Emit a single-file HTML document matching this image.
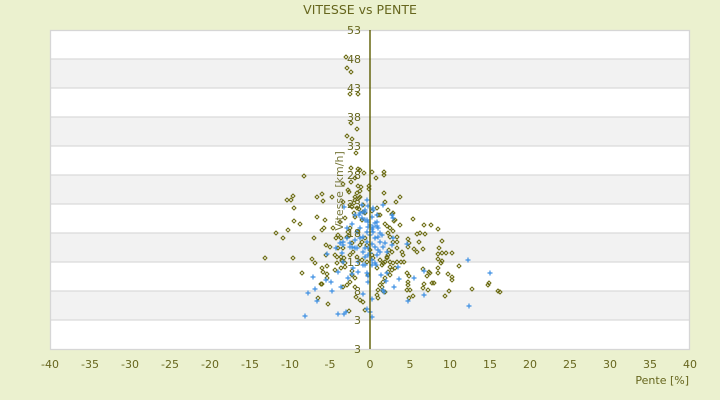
<!DOCTYPE html>
<html><head><meta charset="utf-8"><style>
html,body{margin:0;padding:0;background:#ebf1cf;}
svg{display:block;}
text{font-family:"DejaVu Sans","Liberation Sans",sans-serif;fill:#66661e;}
</style></head><body>
<svg width="720" height="400" viewBox="0 0 720 400" xmlns="http://www.w3.org/2000/svg">
<rect x="0" y="0" width="720" height="400" fill="#ebf1cf"/>
<text x="360" y="14" font-size="12.5" text-anchor="middle">VITESSE vs PENTE</text>
<rect x="50" y="30" width="640" height="319" fill="#ffffff"/>
<g fill="#f2f2f2">
<rect x="50" y="59" width="640" height="29"/>
<rect x="50" y="117" width="640" height="29"/>
<rect x="50" y="175" width="640" height="29"/>
<rect x="50" y="233" width="640" height="29"/>
<rect x="50" y="291" width="640" height="29"/>
</g>
<g stroke="#dadada" stroke-width="1.2">
<line x1="50" y1="59" x2="690" y2="59"/><line x1="50" y1="88" x2="690" y2="88"/>
<line x1="50" y1="117" x2="690" y2="117"/><line x1="50" y1="146" x2="690" y2="146"/>
<line x1="50" y1="175" x2="690" y2="175"/><line x1="50" y1="204" x2="690" y2="204"/>
<line x1="50" y1="233" x2="690" y2="233"/><line x1="50" y1="262" x2="690" y2="262"/>
<line x1="50" y1="291" x2="690" y2="291"/><line x1="50" y1="320" x2="690" y2="320"/>
</g>
<rect x="50.5" y="30.5" width="639" height="319" fill="none" stroke="#d6d6d6" stroke-width="1.3"/>
<path fill="none" stroke="#6a6a10" stroke-width="1" d="M344 57l2-2 2 2-2 2zM345 68l2-2 2 2-2 2zM349 72l2-2 2 2-2 2zM348 94l2-2 2 2-2 2zM356 94l2-2 2 2-2 2zM349 123l2-2 2 2-2 2zM355 129l2-2 2 2-2 2zM345 136l2-2 2 2-2 2zM350 139l2-2 2 2-2 2zM354 153l2-2 2 2-2 2zM349 168l2-2 2 2-2 2zM356 169l2-2 2 2-2 2zM358 170l2-2 2 2-2 2zM362 173l2-2 2 2-2 2zM370 172l2-2 2 2-2 2zM382 172l2-2 2 2-2 2zM382 175l2-2 2 2-2 2zM374 178l2-2 2 2-2 2zM349 182l2-2 2 2-2 2zM341 184l2-2 2 2-2 2zM356 186l2-2 2 2-2 2zM359 187l2-2 2 2-2 2zM358 191l2-2 2 2-2 2zM367 186l2-2 2 2-2 2zM367 189l2-2 2 2-2 2zM347 192l2-2 2 2-2 2zM382 193l2-2 2 2-2 2zM302 176l2-2 2 2-2 2zM394 202l2-2 2 2-2 2zM398 197l2-2 2 2-2 2zM353 178l2-2 2 2-2 2zM346 190l2-2 2 2-2 2zM355 193l2-2 2 2-2 2zM353 197l2-2 2 2-2 2zM357 198l2-2 2 2-2 2zM352 203l2-2 2 2-2 2zM350 207l2-2 2 2-2 2zM355 208l2-2 2 2-2 2zM357 209l2-2 2 2-2 2zM361 212l2-2 2 2-2 2zM352 213l2-2 2 2-2 2zM353 217l2-2 2 2-2 2zM363 213l2-2 2 2-2 2zM360 220l2-2 2 2-2 2z
M291 196l2-2 2 2-2 2zM289 200l2-2 2 2-2 2zM285 200l2-2 2 2-2 2zM320 194l2-2 2 2-2 2zM315 197l2-2 2 2-2 2zM321 201l2-2 2 2-2 2zM292 208l2-2 2 2-2 2zM315 217l2-2 2 2-2 2zM323 220l2-2 2 2-2 2zM298 224l2-2 2 2-2 2zM292 221l2-2 2 2-2 2zM322 228l2-2 2 2-2 2zM320 230l2-2 2 2-2 2zM286 230l2-2 2 2-2 2zM274 233l2-2 2 2-2 2zM281 238l2-2 2 2-2 2zM312 238l2-2 2 2-2 2zM263 258l2-2 2 2-2 2zM291 258l2-2 2 2-2 2zM300 273l2-2 2 2-2 2zM310 259l2-2 2 2-2 2zM313 263l2-2 2 2-2 2zM326 304l2-2 2 2-2 2zM319 284l2-2 2 2-2 2zM325 274l2-2 2 2-2 2z
M411 219l2-2 2 2-2 2zM422 225l2-2 2 2-2 2zM429 225l2-2 2 2-2 2zM436 229l2-2 2 2-2 2zM398 225l2-2 2 2-2 2zM390 214l2-2 2 2-2 2zM392 221l2-2 2 2-2 2zM415 234l2-2 2 2-2 2zM418 233l2-2 2 2-2 2zM423 234l2-2 2 2-2 2zM383 224l2-2 2 2-2 2zM385 226l2-2 2 2-2 2zM386 233l2-2 2 2-2 2zM388 237l2-2 2 2-2 2zM391 231l2-2 2 2-2 2zM395 237l2-2 2 2-2 2zM406 239l2-2 2 2-2 2zM376 215l2-2 2 2-2 2zM375 208l2-2 2 2-2 2zM370 211l2-2 2 2-2 2zM407 243l2-2 2 2-2 2zM406 247l2-2 2 2-2 2zM417 242l2-2 2 2-2 2zM440 241l2-2 2 2-2 2zM437 248l2-2 2 2-2 2zM412 249l2-2 2 2-2 2zM415 252l2-2 2 2-2 2zM440 253l2-2 2 2-2 2zM444 253l2-2 2 2-2 2zM450 253l2-2 2 2-2 2zM436 254l2-2 2 2-2 2zM440 261l2-2 2 2-2 2zM457 266l2-2 2 2-2 2zM436 268l2-2 2 2-2 2zM421 269l2-2 2 2-2 2zM427 272l2-2 2 2-2 2zM425 276l2-2 2 2-2 2zM446 274l2-2 2 2-2 2zM450 277l2-2 2 2-2 2zM450 280l2-2 2 2-2 2zM430 283l2-2 2 2-2 2zM432 283l2-2 2 2-2 2zM421 288l2-2 2 2-2 2zM426 290l2-2 2 2-2 2zM443 296l2-2 2 2-2 2zM447 291l2-2 2 2-2 2zM470 289l2-2 2 2-2 2zM487 283l2-2 2 2-2 2zM486 285l2-2 2 2-2 2zM496 291l2-2 2 2-2 2zM498 292l2-2 2 2-2 2zM411 296l2-2 2 2-2 2zM407 298l2-2 2 2-2 2zM405 273l2-2 2 2-2 2zM407 276l2-2 2 2-2 2zM406 282l2-2 2 2-2 2zM406 285l2-2 2 2-2 2zM405 290l2-2 2 2-2 2zM400 252l2-2 2 2-2 2zM401 255l2-2 2 2-2 2zM402 262l2-2 2 2-2 2zM399 262l2-2 2 2-2 2zM395 242l2-2 2 2-2 2zM387 250l2-2 2 2-2 2zM386 255l2-2 2 2-2 2zM385 258l2-2 2 2-2 2zM383 262l2-2 2 2-2 2zM381 263l2-2 2 2-2 2zM388 262l2-2 2 2-2 2zM391 263l2-2 2 2-2 2zM393 268l2-2 2 2-2 2zM390 270l2-2 2 2-2 2zM386 272l2-2 2 2-2 2zM388 275l2-2 2 2-2 2zM383 278l2-2 2 2-2 2zM381 282l2-2 2 2-2 2zM378 285l2-2 2 2-2 2zM380 287l2-2 2 2-2 2zM376 290l2-2 2 2-2 2zM381 291l2-2 2 2-2 2zM383 292l2-2 2 2-2 2zM375 295l2-2 2 2-2 2zM422 284l2-2 2 2-2 2zM436 273l2-2 2 2-2 2zM428 273l2-2 2 2-2 2zM408 290l2-2 2 2-2 2zM421 249l2-2 2 2-2 2zM436 259l2-2 2 2-2 2zM439 263l2-2 2 2-2 2z
M324 245l2-2 2 2-2 2zM328 247l2-2 2 2-2 2zM334 238l2-2 2 2-2 2zM339 238l2-2 2 2-2 2zM336 248l2-2 2 2-2 2zM341 248l2-2 2 2-2 2zM347 236l2-2 2 2-2 2zM324 255l2-2 2 2-2 2zM333 255l2-2 2 2-2 2zM325 266l2-2 2 2-2 2zM320 268l2-2 2 2-2 2zM321 272l2-2 2 2-2 2zM320 284l2-2 2 2-2 2zM325 278l2-2 2 2-2 2zM333 270l2-2 2 2-2 2zM335 263l2-2 2 2-2 2zM340 261l2-2 2 2-2 2zM339 257l2-2 2 2-2 2zM342 258l2-2 2 2-2 2zM343 267l2-2 2 2-2 2zM339 268l2-2 2 2-2 2zM350 271l2-2 2 2-2 2zM350 275l2-2 2 2-2 2zM353 278l2-2 2 2-2 2zM341 287l2-2 2 2-2 2zM353 287l2-2 2 2-2 2zM348 282l2-2 2 2-2 2zM345 285l2-2 2 2-2 2zM368 250l2-2 2 2-2 2zM363 238l2-2 2 2-2 2zM365 245l2-2 2 2-2 2zM370 255l2-2 2 2-2 2zM366 275l2-2 2 2-2 2zM361 302l2-2 2 2-2 2zM363 310l2-2 2 2-2 2z
M330 197l2-2 2 2-2 2zM341 202l2-2 2 2-2 2zM348 205l2-2 2 2-2 2zM353 200l2-2 2 2-2 2zM358 197l2-2 2 2-2 2zM361 205l2-2 2 2-2 2zM343 218l2-2 2 2-2 2zM338 222l2-2 2 2-2 2zM331 228l2-2 2 2-2 2zM346 232l2-2 2 2-2 2zM345 237l2-2 2 2-2 2zM335 257l2-2 2 2-2 2zM340 260l2-2 2 2-2 2zM343 263l2-2 2 2-2 2zM348 255l2-2 2 2-2 2zM351 252l2-2 2 2-2 2zM358 245l2-2 2 2-2 2zM360 242l2-2 2 2-2 2zM383 202l2-2 2 2-2 2zM386 210l2-2 2 2-2 2zM391 213l2-2 2 2-2 2zM393 220l2-2 2 2-2 2zM388 228l2-2 2 2-2 2zM391 242l2-2 2 2-2 2zM395 248l2-2 2 2-2 2zM390 252l2-2 2 2-2 2zM385 257l2-2 2 2-2 2zM395 262l2-2 2 2-2 2zM380 265l2-2 2 2-2 2zM375 268l2-2 2 2-2 2zM388 267l2-2 2 2-2 2zM371 258l2-2 2 2-2 2zM378 260l2-2 2 2-2 2zM360 260l2-2 2 2-2 2zM365 262l2-2 2 2-2 2zM355 257l2-2 2 2-2 2zM378 215l2-2 2 2-2 2zM356 232l2-2 2 2-2 2zM350 243l2-2 2 2-2 2zM348 228l2-2 2 2-2 2zM336 235l2-2 2 2-2 2z
M316 298l2-2 2 2-2 2zM354 297l2-2 2 2-2 2zM376 298l2-2 2 2-2 2zM347 311l2-2 2 2-2 2zM358 300l2-2 2 2-2 2z"/>
<path fill="none" stroke="#3d8fe3" stroke-width="1.2" d="M364.5 200h5m-2.5-2.5v5M365.5 206h5m-2.5-2.5v5M370.5 210h5m-2.5-2.5v5M360.5 212h5m-2.5-2.5v5M359.5 218h5m-2.5-2.5v5M362.5 220h5m-2.5-2.5v5M365.5 222h5m-2.5-2.5v5M367.5 225h5m-2.5-2.5v5M370.5 227h5m-2.5-2.5v5M369.5 217h5m-2.5-2.5v5M374.5 222h5m-2.5-2.5v5M375.5 228h5m-2.5-2.5v5M364.5 232h5m-2.5-2.5v5M367.5 235h5m-2.5-2.5v5M372.5 238h5m-2.5-2.5v5M377.5 242h5m-2.5-2.5v5M380.5 247h5m-2.5-2.5v5M372.5 247h5m-2.5-2.5v5M365.5 248h5m-2.5-2.5v5M360.5 252h5m-2.5-2.5v5M367.5 253h5m-2.5-2.5v5M374.5 255h5m-2.5-2.5v5M362.5 257h5m-2.5-2.5v5M355.5 262h5m-2.5-2.5v5M369.5 260h5m-2.5-2.5v5M360.5 265h5m-2.5-2.5v5M347.5 247h5m-2.5-2.5v5M340.5 245h5m-2.5-2.5v5M352.5 248h5m-2.5-2.5v5M337.5 243h5m-2.5-2.5v5M382.5 243h5m-2.5-2.5v5M389.5 245h5m-2.5-2.5v5M390.5 238h5m-2.5-2.5v5M389.5 215h5m-2.5-2.5v5M380.5 205h5m-2.5-2.5v5M372.5 263h5m-2.5-2.5v5M364.5 242h5m-2.5-2.5v5M370.5 232h5m-2.5-2.5v5M360.5 237h5m-2.5-2.5v5M357.5 228h5m-2.5-2.5v5M377.5 252h5m-2.5-2.5v5M379.5 235h5m-2.5-2.5v5M384.5 252h5m-2.5-2.5v5M369.5 265h5m-2.5-2.5v5
M362.5 212h5m-2.5-2.5v5M364.5 220h5m-2.5-2.5v5M372.5 223h5m-2.5-2.5v5M365.5 227h5m-2.5-2.5v5M369.5 229h5m-2.5-2.5v5M374.5 226h5m-2.5-2.5v5M375.5 237h5m-2.5-2.5v5M390.5 218h5m-2.5-2.5v5
M465.5 260h5m-2.5-2.5v5M487.5 273h5m-2.5-2.5v5M466.5 306h5m-2.5-2.5v5M421.5 295h5m-2.5-2.5v5M405.5 301h5m-2.5-2.5v5M391.5 287h5m-2.5-2.5v5M396.5 279h5m-2.5-2.5v5M411.5 278h5m-2.5-2.5v5M383.5 281h5m-2.5-2.5v5M395.5 267h5m-2.5-2.5v5M421.5 271h5m-2.5-2.5v5M378.5 275h5m-2.5-2.5v5M384.5 273h5m-2.5-2.5v5M373.5 265h5m-2.5-2.5v5M365.5 255h5m-2.5-2.5v5M375.5 250h5m-2.5-2.5v5M365.5 282h5m-2.5-2.5v5M369.5 299h5m-2.5-2.5v5M364.5 309h5m-2.5-2.5v5M367.5 312h5m-2.5-2.5v5M369.5 317h5m-2.5-2.5v5M404.5 244h5m-2.5-2.5v5M380.5 290h5m-2.5-2.5v5M381.5 292h5m-2.5-2.5v5
M333.5 248h5m-2.5-2.5v5M324.5 254h5m-2.5-2.5v5M339.5 253h5m-2.5-2.5v5M340.5 262h5m-2.5-2.5v5M349.5 247h5m-2.5-2.5v5M354.5 248h5m-2.5-2.5v5M352.5 240h5m-2.5-2.5v5M340.5 242h5m-2.5-2.5v5M310.5 277h5m-2.5-2.5v5M323.5 280h5m-2.5-2.5v5M328.5 282h5m-2.5-2.5v5M312.5 289h5m-2.5-2.5v5M305.5 293h5m-2.5-2.5v5M314.5 301h5m-2.5-2.5v5M329.5 291h5m-2.5-2.5v5M335.5 272h5m-2.5-2.5v5M338.5 287h5m-2.5-2.5v5M345.5 278h5m-2.5-2.5v5M349.5 274h5m-2.5-2.5v5M350.5 268h5m-2.5-2.5v5M355.5 272h5m-2.5-2.5v5M362.5 265h5m-2.5-2.5v5M364.5 273h5m-2.5-2.5v5M365.5 276h5m-2.5-2.5v5M360.5 294h5m-2.5-2.5v5M302.5 316h5m-2.5-2.5v5M335.5 314h5m-2.5-2.5v5M341.5 314h5m-2.5-2.5v5M343.5 312h5m-2.5-2.5v5M357.5 238h5m-2.5-2.5v5M362.5 248h5m-2.5-2.5v5M369.5 244h5m-2.5-2.5v5
M352.5 215h5m-2.5-2.5v5M357.5 213h5m-2.5-2.5v5M362.5 210h5m-2.5-2.5v5M370.5 208h5m-2.5-2.5v5M374.5 215h5m-2.5-2.5v5M344.5 238h5m-2.5-2.5v5M347.5 243h5m-2.5-2.5v5M377.5 233h5m-2.5-2.5v5M341.5 207h5m-2.5-2.5v5M349.5 224h5m-2.5-2.5v5M344.5 228h5m-2.5-2.5v5M354.5 232h5m-2.5-2.5v5M359.5 205h5m-2.5-2.5v5M356.5 215h5m-2.5-2.5v5"/>
<line x1="370" y1="30" x2="370" y2="349" stroke="#5c5c00" stroke-width="1.4"/>
<g font-size="11" text-anchor="end">
<text x="361" y="34">53</text><text x="361" y="63">48</text><text x="361" y="92">43</text>
<text x="361" y="121">38</text><text x="361" y="150">33</text><text x="361" y="179">28</text>
<text x="361" y="208">23</text><text x="361" y="237">18</text><text x="361" y="266">13</text>
<text x="361" y="295">8</text><text x="361" y="324">3</text><text x="361" y="353">3</text>
</g>
<text transform="translate(343,191) rotate(-90)" font-size="11" text-anchor="middle" style="fill:#77773a">Vitesse [km/h]</text>
<g font-size="11" text-anchor="middle">
<text x="50" y="368">-40</text><text x="90" y="368">-35</text><text x="130" y="368">-30</text>
<text x="170" y="368">-25</text><text x="210" y="368">-20</text><text x="250" y="368">-15</text>
<text x="290" y="368">-10</text><text x="330" y="368">-5</text><text x="370" y="368">0</text>
<text x="410" y="368">5</text><text x="450" y="368">10</text><text x="490" y="368">15</text>
<text x="530" y="368">20</text><text x="570" y="368">25</text><text x="610" y="368">30</text>
<text x="650" y="368">35</text><text x="690" y="368">40</text>
</g>
<text x="689" y="384" font-size="11" text-anchor="end">Pente [%]</text>
</svg>
</body></html>
